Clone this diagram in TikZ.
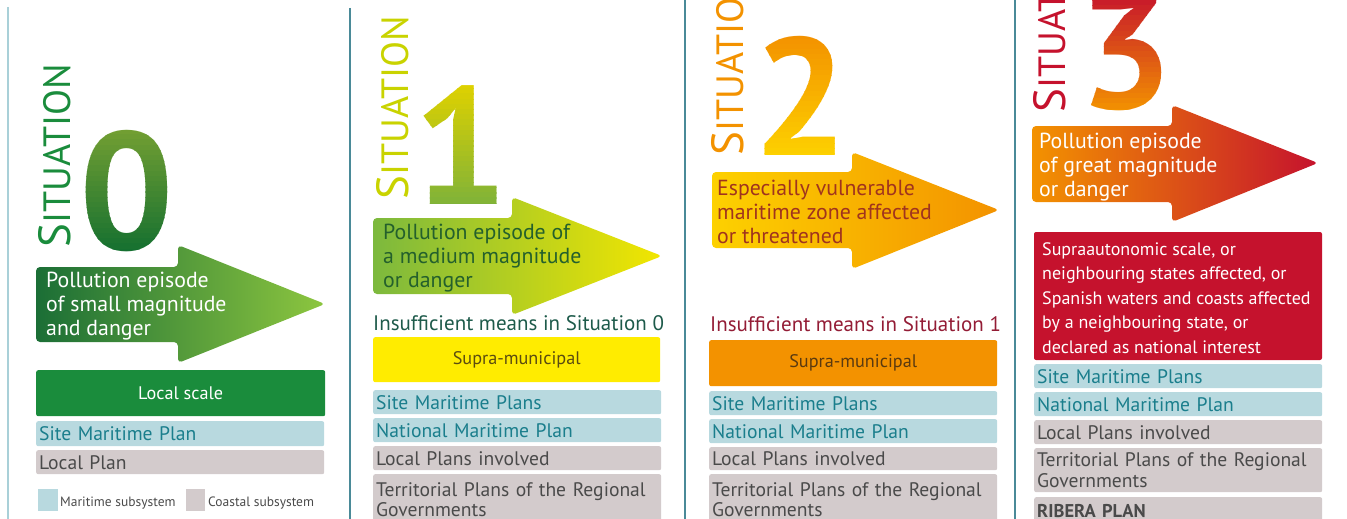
\documentclass[tikz,border=0pt]{standalone}
\usepackage{fontspec}
\setmainfont{PT Sans}
\newfontfamily\bigdigit{PT Sans Bold}

\definecolor{sepfirst}{HTML}{A9D0D8}
\definecolor{sepline}{HTML}{4A8A98}
\definecolor{greendark}{HTML}{1B6E36}
\definecolor{greenmid}{HTML}{1A8C3C}
\definecolor{greenlight}{HTML}{8DC63F}
\definecolor{limegreen}{HTML}{C9D300}
\definecolor{yellowbright}{HTML}{FFEC00}
\definecolor{yellowarrow}{HTML}{F2E600}
\definecolor{orangemain}{HTML}{F39200}
\definecolor{yelloworange}{HTML}{FDD100}
\definecolor{redmain}{HTML}{C5122D}
\definecolor{mbar}{HTML}{B8D9DF}
\definecolor{mtext}{HTML}{1A7E8C}
\definecolor{cbar}{HTML}{D3CBCC}
\definecolor{ctext}{HTML}{4A4A4A}
\definecolor{olivetext}{HTML}{5B4C10}
\definecolor{browntext}{HTML}{5A3A10}
\definecolor{darkgreentext}{HTML}{24602C}
\definecolor{rusttext}{HTML}{A0341E}
\definecolor{winetext}{HTML}{931C35}
\definecolor{tealtext}{HTML}{1D5A4A}

\tikzset{
  situationtext/.style={anchor=base west, rotate=90, inner sep=0pt},
  digitstyle/.style={inner sep=0pt, font=\bigdigit\fontsize{167}{167}\selectfont},
  arrowtext/.style={anchor=base west, align=left, inner sep=0pt, font=\fontsize{21.8}{24}\selectfont},
  meanstext/.style={anchor=base west, inner sep=0pt, font=\fontsize{21}{22}\selectfont},
  scalebox/.style={anchor=north west, inner sep=0pt, rounded corners=2pt, minimum width=288pt, font=\fontsize{18.2}{20}\selectfont},
  planbar/.style={anchor=north west, inner xsep=3pt, inner ysep=0pt, text width=282pt, align=left, rounded corners=2pt, font=\fontsize{19.6}{20.5}\selectfont},
  bluebar/.style={planbar, fill=mbar, text=mtext},
  graybar/.style={planbar, fill=cbar, text=ctext},
  legendtext/.style={anchor=base west, inner sep=0pt, font=\fontsize{13.5}{15}\selectfont, text=ctext}
}

\newcommand{\situationword}{{\fontsize{45}{45}\selectfont S}{\fontsize{38}{38}\selectfont ITUATION}}
% big digit filled top to bottom in strips: name, x, y, digit, top colour, bottom colour
\newcommand{\gradientdigit}[6]{%
  \foreach \k in {0,...,23} {
    \pgfmathsetmacro{\pct}{100-\k*100/23}
    \begin{scope}
      \clip (#2-70,#3-62+\k*5.2) rectangle (#2+70,#3-62+\k*5.2+5.5);
      \node[digitstyle, text=#5!\pct!#6] (#1\k) at (#2,#3) {#4};
    \end{scope}
  }%
}

\begin{document}
\begin{tikzpicture}[x=1pt, y=-1pt]
\useasboundingbox (0,0) rectangle (1347,519);
\clip (0,0) rectangle (1347,519);

% separators
\draw[sepfirst, line width=2pt] (8,7) -- (8,519);
\draw[sepline, line width=1.1pt] (350,8) -- (350,519);
\draw[sepline, line width=1.1pt] (685,0) -- (685,519);
\draw[sepline, line width=1.1pt] (1015,0) -- (1015,519);

% ---- situation 0
\node[situationtext, text=greenmid] (sitzero) at (70,248) {\situationword};
\gradientdigit{digitzero}{126.5}{191.5}{0}{greenlight}{greenmid!80!black}
\shade[rounded corners=4pt, left color=greendark, right color=greenlight]
  (36,267) -- (178,267) -- (178,245) -- (325,304) -- (178,363) -- (178,342) -- (36,342) -- cycle;
\node[arrowtext, text=white] (episodezero) at (46,335) {Pollution episode\\of small magnitude\\and danger};
\node[scalebox, fill=greenmid, text=white, minimum width=289pt, minimum height=46pt] (scalezero) at (36,370) {Local scale};
\node[bluebar, minimum height=25pt] (sitezero) at (36,421) {Site Maritime Plan};
\node[graybar, minimum height=24pt] (localzero) at (36,450) {Local Plan};
\fill[mbar] (38,489) rectangle (58,511);
\node[legendtext] (legmaritime) at (60,506) {Maritime subsystem};
\fill[cbar] (186,489) rectangle (205,511);
\node[legendtext] (legcoastal) at (208,506) {Coastal subsystem};

% ---- situation 1
\node[situationtext, text=limegreen] (sitone) at (408,200) {\situationword};
\gradientdigit{digitone}{461}{145.5}{1}{yellowbright!85!limegreen}{greenlight!90!black}
\shade[rounded corners=4pt, left color=greenlight!85!greendark, right color=yellowarrow]
  (373,218) -- (512,218) -- (512,197) -- (662,256) -- (512,315) -- (512,294) -- (373,294) -- cycle;
\node[arrowtext, text=darkgreentext] (episodeone) at (383,287) {Pollution episode of\\a medium magnitude\\or danger};
\node[meanstext, text=tealtext] (meansone) at (373,330) {Insufficient means in Situation 0};
\node[scalebox, fill=yellowbright, text=olivetext, minimum width=287pt, minimum height=45pt] (scaleone) at (373,337) {Supra-municipal};
\node[bluebar, minimum height=24pt] (siteone) at (373,390) {Site Maritime Plans};
\node[bluebar, minimum height=24pt] (nationalone) at (373,418) {National Maritime Plan};
\node[graybar, minimum height=24pt] (localone) at (373,446) {Local Plans involved};
\node[graybar, minimum height=51pt] (territone) at (373,474) {Territorial Plans of the Regional\\Governments};

% ---- situation 2
\node[situationtext, text=orangemain] (sittwo) at (743,156) {\situationword};
\gradientdigit{digittwo}{801}{96}{2}{orangemain}{yelloworange}
\shade[rounded corners=4pt, left color=yelloworange, right color=orangemain]
  (712,172) -- (852,172) -- (852,152) -- (999,210) -- (852,269) -- (852,248) -- (712,248) -- cycle;
\node[arrowtext, text=rusttext] (episodetwo) at (717,243) {Especially vulnerable\\maritime zone affected\\or threatened};
\node[meanstext, text=winetext] (meanstwo) at (710,331) {Insufficient means in Situation 1};
\node[scalebox, fill=orangemain, text=browntext, minimum height=46pt] (scaletwo) at (709,340) {Supra-municipal};
\node[bluebar, minimum height=24pt] (sitetwo) at (709,391) {Site Maritime Plans};
\node[bluebar, minimum height=24pt] (nationaltwo) at (709,419) {National Maritime Plan};
\node[graybar, minimum height=23pt] (localtwo) at (709,447) {Local Plans involved};
\node[graybar, minimum height=51pt] (territwo) at (709,474) {Territorial Plans of the Regional\\Governments};

% ---- situation 3
\node[situationtext, text=redmain] (sitthree) at (1065,113) {\situationword};
\gradientdigit{digitthree}{1126}{51.5}{3}{redmain}{orangemain}
\shade[rounded corners=4pt, left color=orangemain, right color=redmain]
  (1032,126) -- (1172,126) -- (1172,105) -- (1318,163) -- (1172,222) -- (1172,202) -- (1032,202) -- cycle;
\node[arrowtext, text=white] (episodethree) at (1039,196) {Pollution episode\\of great magnitude\\or danger};
\fill[redmain, rounded corners=2pt] (1034,232) rectangle (1322,360);
\node[anchor=base west, align=left, inner sep=0pt, text=white, font=\fontsize{18}{24.6}\selectfont] (scalethree) at (1042,353.4)
  {Supraautonomic scale, or\\neighbouring states affected, or\\Spanish waters and coasts affected\\by a neighbouring state, or\\declared as national interest};
\node[bluebar, minimum height=24pt] (sitethree) at (1034,364) {Site Maritime Plans};
\node[bluebar, minimum height=24pt] (nationalthree) at (1034,392) {National Maritime Plan};
\node[graybar, minimum height=24pt] (localthree) at (1034,420) {Local Plans involved};
\node[graybar, minimum height=44pt] (territhree) at (1034,448) {Territorial Plans of the Regional\\Governments};
\node[graybar, minimum height=28pt, font=\fontsize{18.5}{20}\selectfont\bfseries] (riberathree) at (1034,497) {RIBERA PLAN};
\end{tikzpicture}
\end{document}
